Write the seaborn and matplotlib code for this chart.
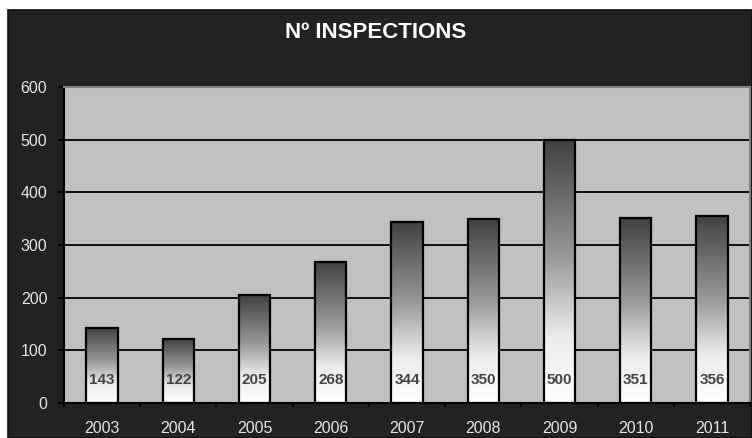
import numpy as np
import pandas as pd
import matplotlib
matplotlib.use("Agg")
import matplotlib.pyplot as plt
from matplotlib.patches import Rectangle
from matplotlib.colors import LinearSegmentedColormap
from matplotlib.ticker import FixedLocator
import seaborn as sns

# Inspection counts per year
years = ["2003", "2004", "2005", "2006", "2007", "2008", "2009", "2010", "2011"]
inspections = [143, 122, 205, 268, 344, 350, 500, 351, 356]
title = "Nº INSPECTIONS"
y_ticks = [0, 100, 200, 300, 400, 500, 600]

df = pd.DataFrame({"year": years, "count": inspections})

sns.set_theme(style="white")
plt.rcParams["font.family"] = ["Liberation Sans", "DejaVu Sans"]

fig = plt.figure(figsize=(7.52, 4.38), dpi=100, facecolor="white")

# dark panel behind the whole chart
panel = Rectangle((8 / 752, 0), 1 - 8 / 752, 1 - 10 / 438, transform=fig.transFigure,
                  facecolor="#222222", edgecolor="#111111", linewidth=1.2, zorder=-10)
fig.patches.append(panel)

ax = fig.add_axes([64 / 752, 35 / 438, 686 / 752, 316 / 438])
ax.set_facecolor("#c0c0c0")

sns.barplot(data=df, x="year", y="count", ax=ax, width=0.41,
            color="#808080", edgecolor="black", linewidth=1.6, zorder=3)

# vertical dark-to-white fill inside every bar
cmap = LinearSegmentedColormap.from_list(
    "shade", [(0.0, "#404040"), (0.45, "#9a9a9a"), (0.75, "#ececec"), (1.0, "#ffffff")])
grad = np.linspace(0, 1, 256).reshape(-1, 1)
for bar in ax.patches:
    x0, y0 = bar.get_x(), bar.get_y()
    w, h = bar.get_width(), bar.get_height()
    bar.set_facecolor("none")
    im = ax.imshow(grad, cmap=cmap, aspect="auto", origin="upper",
                   extent=(x0, x0 + w, y0, y0 + h), zorder=2.5, interpolation="bicubic")
    im.set_clip_path(bar)

ax.set_xlim(-0.5, len(years) - 0.5)
ax.set_ylim(0, 600)
ax.set_yticks(y_ticks)

# value labels near the foot of each bar
for i, v in enumerate(inspections):
    ax.text(i, 44, str(v), ha="center", va="center", fontsize=11, fontweight="bold",
            color="#444444", zorder=5)

ax.grid(axis="y", color="black", linewidth=1.3, zorder=1)
ax.set_axisbelow(True)
ax.set_xlabel("")
ax.set_ylabel("")

for side in ["left", "bottom"]:
    ax.spines[side].set_color("black")
    ax.spines[side].set_linewidth(1.5)
for side in ["top", "right"]:
    ax.spines[side].set_color("#808080")
    ax.spines[side].set_linewidth(1.5)

ax.xaxis.set_minor_locator(FixedLocator(np.arange(-0.5, len(years), 1.0)))
ax.tick_params(axis="x", which="major", length=0, pad=13, labelsize=11.5, labelcolor="#e6e6e6")
ax.tick_params(axis="x", which="minor", bottom=True, length=3, width=1.2, color="black")
ax.tick_params(axis="y", which="major", left=True, length=4, width=1.2, color="black",
               pad=8, labelsize=11.5, labelcolor="#e6e6e6")

fig.text(0.5, 1 - 33 / 438, title, ha="center", va="center", fontsize=16,
         fontweight="bold", color="white")

fig.savefig("out.png", dpi=100, facecolor=fig.get_facecolor())
